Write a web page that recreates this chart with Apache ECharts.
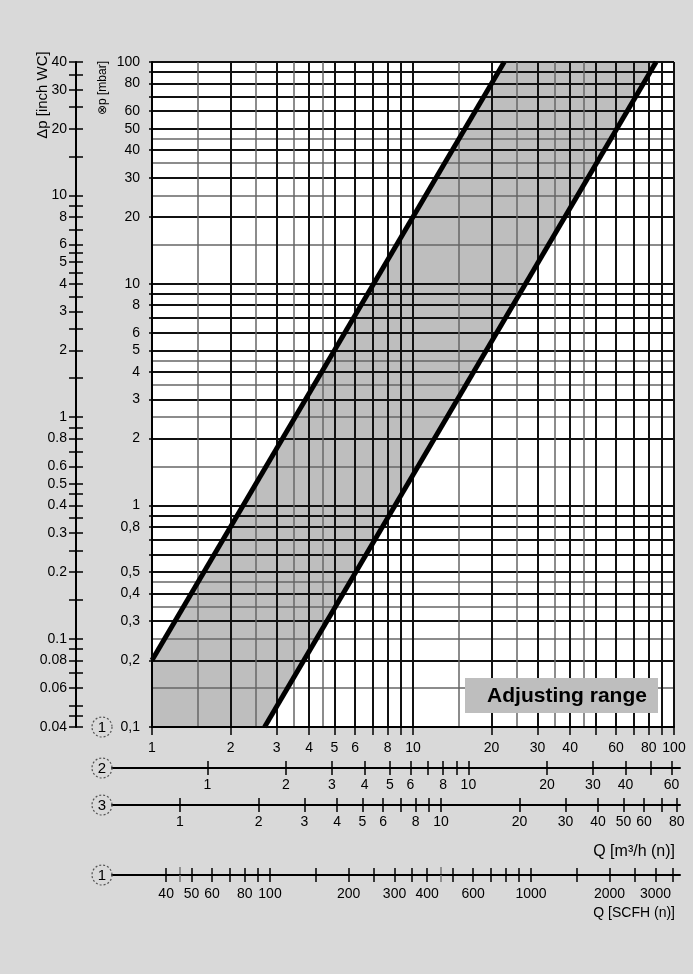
<!DOCTYPE html>
<html>
<head>
<meta charset="utf-8">
<script src="https://cdn.jsdelivr.net/npm/echarts@6/dist/echarts.min.js"></script>
<style>
  html, body { margin: 0; padding: 0; background: #d9d9d9; }
  #chart { width: 693px; height: 974px; }
</style>
</head>
<body>
<div id="chart"></div>
<script>
// main flow scale Q [m3/h (n)], scale 1
const qMajor = [1, 2, 3, 4, 5, 6, 7, 8, 9, 10, 20, 30, 40, 50, 60, 70, 80, 90, 100];
const qMinor = [1.5, 2.5, 3.5, 4.5, 15, 25, 35, 45];
const qLabels = [1, 2, 3, 4, 5, 6, 8, 10, 20, 30, 40, 60, 80, 100];

// pressure drop [mbar]
const pMajor = [0.1, 0.2, 0.3, 0.4, 0.5, 0.6, 0.7, 0.8, 0.9, 1, 2, 3, 4, 5, 6, 7, 8, 9,
  10, 20, 30, 40, 50, 60, 70, 80, 90, 100];
const pMinor = [0.15, 0.25, 0.35, 0.45, 1.5, 2.5, 3.5, 4.5, 15, 25, 35, 45];
const pLabels = [0.1, 0.2, 0.3, 0.4, 0.5, 0.8, 1, 2, 3, 4, 5, 6, 8, 10, 20, 30, 40, 50, 60, 80, 100];

// pressure drop [inch WC]
const wcTicks = [0.04, 0.045, 0.05, 0.06, 0.07, 0.08, 0.09, 0.1, 0.15, 0.2, 0.25, 0.3, 0.35, 0.4,
  0.45, 0.5, 0.6, 0.7, 0.8, 0.9, 1, 1.5, 2, 2.5, 3, 3.5, 4, 4.5, 5, 5.5, 6, 7, 8, 9, 10,
  15, 20, 25, 30, 35, 40];
const wcLabels = [0.04, 0.06, 0.08, 0.1, 0.2, 0.3, 0.4, 0.5, 0.6, 0.8, 1, 2, 3, 4, 5, 6, 8, 10, 20, 30, 40];

// scale 2
const s2Ticks = [1, 2, 3, 4, 5, 6, 7, 8, 9, 10, 20, 30, 40, 50, 60];
const s2Labels = [1, 2, 3, 4, 5, 6, 8, 10, 20, 30, 40, 60];
// scale 3
const s3Ticks = [1, 2, 3, 4, 5, 6, 7, 8, 9, 10, 20, 30, 40, 50, 60, 70, 80];
const s3Labels = [1, 2, 3, 4, 5, 6, 8, 10, 20, 30, 40, 50, 60, 80];
// SCFH
const scfhTicks = [40, 50, 60, 70, 80, 90, 100, 150, 200, 250, 300, 350, 400, 500, 600, 700,
  800, 900, 1000, 1500, 2000, 2500, 3000, 3500];
const scfhMinor = [45, 450];
const scfhLabels = [40, 50, 60, 80, 100, 200, 300, 400, 600, 1000, 2000, 3000];

// flow of each scale relative to scale 1
const s2Factor = 1 / 1.63;
const s3Factor = 1 / 1.28;
const scfhFactor = 35.31;

// limits of the adjusting range
const lineLow = [[1, 0.2], [22.36, 100]];
const lineHigh = [[2.7, 0.1], [85.4, 100]];

const scaleIds = ['1', '2', '3', '1'];

const FONT = "'Liberation Sans', Arial, sans-serif";
const plotL = 152, plotR = 674, plotT = 62, plotB = 727;
const decade = (plotR - plotL) / 2;
const auxL = 112, auxR = 680;
const auxY = [768, 805, 875];
const circleY = [plotB, 768, 805, 875];
const qAt = (x) => Math.pow(10, (x - plotL) / decade);

const fillPoly = [[1, 0.1]].concat(lineLow, lineHigh.slice().reverse());

function logAxis(o) {
  return Object.assign({
    type: 'log', logBase: 10, z: 3,
    axisLine: { show: false },
    axisTick: { show: false },
    axisLabel: { show: false },
    splitLine: { show: false }
  }, o);
}
const lbl = (vals, margin, extra) => Object.assign({
  show: true, customValues: vals, margin: margin, fontSize: 14, color: '#000', fontFamily: FONT,
  formatter: (v) => String(v)
}, extra || {});

function auxAxes(grid, factor, ticks, labels, color, withLine) {
  const min = qAt(auxL) * factor, max = qAt(auxR) * factor;
  const c = color || '#000';
  return [
    logAxis({
      gridIndex: grid, min, max, position: 'bottom',
      axisLine: { show: !!withLine, onZero: false, lineStyle: { color: '#000', width: 2 } },
      axisTick: { show: true, customValues: ticks, length: 7, lineStyle: { color: c, width: 1.5 } },
      axisLabel: labels ? lbl(labels, grid === 4 ? 12 : 10) : { show: false }
    }),
    logAxis({
      gridIndex: grid, min, max, position: 'top',
      axisTick: { show: true, customValues: ticks, length: 7, lineStyle: { color: c, width: 1.5 } }
    })
  ];
}

const chart = echarts.init(document.getElementById('chart'));

const graphic = [];
circleY.forEach((y, i) => {
  graphic.push({
    type: 'circle', shape: { cx: 102, cy: y, r: 10 },
    style: { fill: 'none', stroke: '#555', lineWidth: 1.2, lineDash: [2, 2] }, z: 50
  });
  graphic.push({
    type: 'text', x: 102, y: y + 1,
    style: { text: scaleIds[i], fontSize: 15, fontFamily: FONT, fill: '#000', align: 'center', verticalAlign: 'middle' },
    z: 51
  });
});
graphic.push(
  {
    type: 'text', x: 43, y: 95, rotation: Math.PI / 2,
    style: { text: 'Δp [inch WC]', fontSize: 15, fontFamily: FONT, fill: '#000', align: 'center', verticalAlign: 'middle' }
  },
  {
    type: 'text', x: 103, y: 88, rotation: Math.PI / 2,
    style: { text: '⊗p [mbar]', fontSize: 12, fontFamily: FONT, fill: '#000', align: 'center', verticalAlign: 'middle' }
  },
  {
    type: 'text', x: 675, y: 852,
    style: { text: 'Q [m³/h (n)]', fontSize: 16, fontFamily: FONT, fill: '#000', align: 'right', verticalAlign: 'middle' }
  },
  {
    type: 'text', x: 675, y: 913,
    style: { text: 'Q [SCFH (n)]', fontSize: 14, fontFamily: FONT, fill: '#000', align: 'right', verticalAlign: 'middle' }
  },
  {
    type: 'rect', shape: { x: 465, y: 678, width: 193, height: 35 },
    style: { fill: '#bebebe' }, z: 100
  },
  {
    type: 'text', x: 567, y: 696,
    style: { text: 'Adjusting range', fontSize: 21, fontWeight: 'bold', fontFamily: FONT, fill: '#000', align: 'center', verticalAlign: 'middle' },
    z: 101
  }
);

chart.setOption({
  animation: false,
  backgroundColor: '#d9d9d9',
  grid: [
    { left: plotL, top: plotT, width: plotR - plotL, height: plotB - plotT, show: true, backgroundColor: '#fff', borderWidth: 0 },
    { left: 76, top: plotT, width: 1, height: plotB - plotT },
    { left: auxL, width: auxR - auxL, top: auxY[0] - 1, height: 1 },
    { left: auxL, width: auxR - auxL, top: auxY[1] - 1, height: 1 },
    { left: auxL, width: auxR - auxL, top: auxY[2] - 1, height: 1 }
  ],
  xAxis: [
    logAxis({
      gridIndex: 0, min: 1, max: 100, position: 'bottom',
      axisLine: { show: true, onZero: false, lineStyle: { color: '#000', width: 2 } },
      axisTick: { show: true, customValues: qMajor, length: 8, lineStyle: { color: '#000', width: 1.5 } },
      axisLabel: lbl(qLabels, 14),
      splitLine: { show: true, lineStyle: { color: '#111', width: 2 } }
    }),
    logAxis({
      gridIndex: 0, min: 1, max: 100, position: 'bottom',
      axisTick: { show: false, customValues: qMinor },
      splitLine: { show: true, lineStyle: { color: '#666', width: 1.5 } }
    }),
    { gridIndex: 1, type: 'value', show: false },
    ...auxAxes(2, s2Factor, s2Ticks, s2Labels, null, true),
    ...auxAxes(3, s3Factor, s3Ticks, s3Labels, null, true),
    ...auxAxes(4, scfhFactor, scfhTicks, scfhLabels, null, true),
    ...auxAxes(4, scfhFactor, scfhMinor, null, '#777', false)
  ],
  yAxis: [
    logAxis({
      gridIndex: 0, min: 0.1, max: 100, position: 'left',
      axisLine: { show: true, onZero: false, lineStyle: { color: '#000', width: 2 } },
      axisTick: { show: true, customValues: pMajor, length: 3, lineStyle: { color: '#000', width: 1.5 } },
      axisLabel: lbl(pLabels, 12, { formatter: (v) => String(v).replace('.', ',') }),
      splitLine: { show: true, lineStyle: { color: '#111', width: 2 } }
    }),
    logAxis({
      gridIndex: 0, min: 0.1, max: 100, position: 'left',
      axisTick: { show: false, customValues: pMinor },
      splitLine: { show: true, lineStyle: { color: '#666', width: 1.5 } }
    }),
    logAxis({
      gridIndex: 1, min: 0.04, max: 40, position: 'left',
      axisLine: { show: true, onZero: false, lineStyle: { color: '#000', width: 2 } },
      axisTick: { show: true, customValues: wcTicks, length: 7, lineStyle: { color: '#000', width: 1.5 } },
      axisLabel: lbl(wcLabels, 9)
    }),
    logAxis({
      gridIndex: 1, min: 0.04, max: 40, position: 'left',
      axisTick: { show: true, inside: true, customValues: wcTicks, length: 7, lineStyle: { color: '#000', width: 1.5 } }
    }),
    { gridIndex: 2, type: 'value', show: false },
    { gridIndex: 3, type: 'value', show: false },
    { gridIndex: 4, type: 'value', show: false }
  ],
  series: [
    {
      type: 'custom', xAxisIndex: 0, yAxisIndex: 0, z: 2, silent: true,
      data: fillPoly,
      renderItem(params, api) {
        if (params.dataIndex !== 0) return null;
        return {
          type: 'polygon',
          shape: { points: fillPoly.map((p) => api.coord(p)) },
          style: { fill: '#bebebe' }
        };
      }
    },
    {
      type: 'line', xAxisIndex: 0, yAxisIndex: 0, z: 10, data: lineLow,
      symbol: 'none', lineStyle: { color: '#000', width: 5 }, silent: true
    },
    {
      type: 'line', xAxisIndex: 0, yAxisIndex: 0, z: 10, data: lineHigh,
      symbol: 'none', lineStyle: { color: '#000', width: 5 }, silent: true
    }
  ],
  graphic
});
</script>
</body>
</html>
